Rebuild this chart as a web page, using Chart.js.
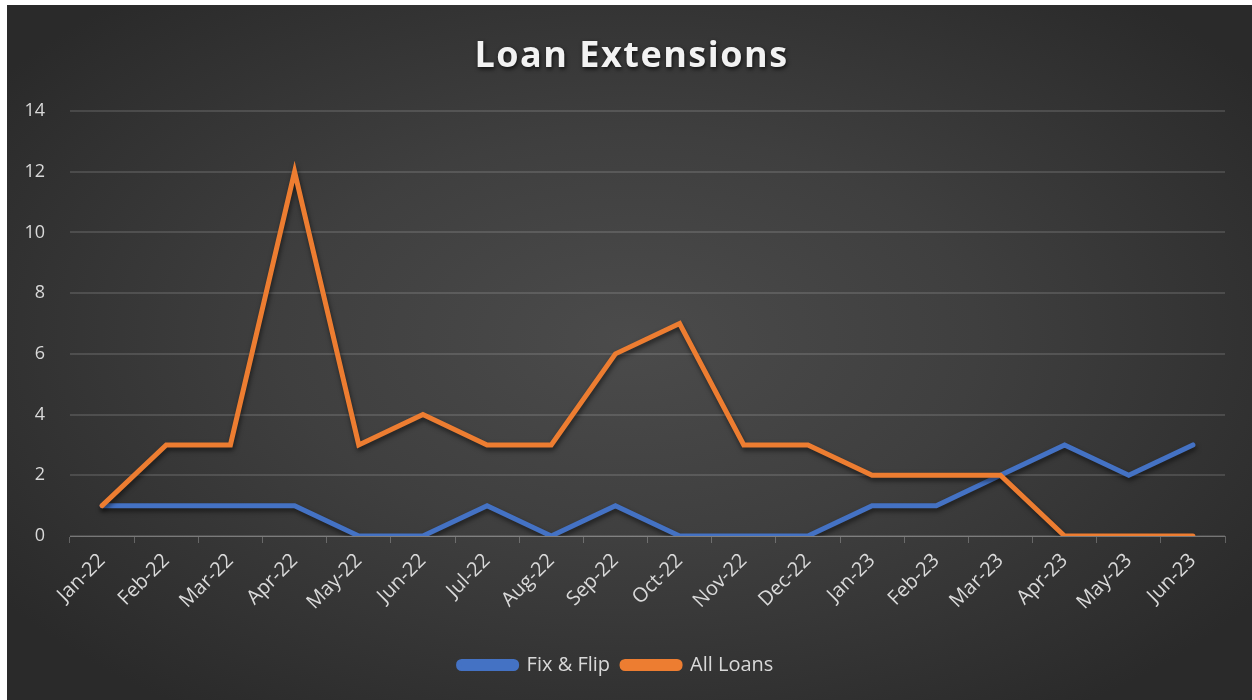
<!DOCTYPE html>
<html>
<head>
<meta charset="utf-8">
<script src="https://cdn.jsdelivr.net/npm/chart.js@4.4.1/dist/chart.umd.min.js"></script>
<style>
    html, body {
        margin: 0;
        padding: 0;
        background: #ffffff;
    }

    #ChartBox {
        position: absolute;
        left: 7px;
        top: 5px;
        width: 1245px;
        height: 695px;
        background: radial-gradient(ellipse 62% 65% at 50% 48%, #4b4b4b 0%, #3f3f3f 45%, #2a2a2a 100%);
    }
</style>
</head>
<body>
<div id="ChartBox">
    <canvas id="LoanExtensionsChart"></canvas>
</div>
<script>
const chartTitle = 'Loan Extensions';

const months = [
    'Jan-22', 'Feb-22', 'Mar-22', 'Apr-22', 'May-22', 'Jun-22',
    'Jul-22', 'Aug-22', 'Sep-22', 'Oct-22', 'Nov-22', 'Dec-22',
    'Jan-23', 'Feb-23', 'Mar-23', 'Apr-23', 'May-23', 'Jun-23'
];

const fixAndFlip = [1, 1, 1, 1, 0, 0, 1, 0, 1, 0, 0, 0, 1, 1, 2, 3, 2, 3];
const allLoans = [1, 3, 3, 12, 3, 4, 3, 3, 6, 7, 3, 3, 2, 2, 2, 0, 0, 0];

const yMin = 0;
const yMax = 14;
const yStep = 2;

const textColor = '#d9d9d9';
const gridColor = 'rgba(255, 255, 255, 0.13)';
const axisColor = 'rgba(255, 255, 255, 0.25)';
const fontFamily = '"Open Sans", "Noto Sans", sans-serif';

// soft drop shadow under both lines
const lineShadow = {
    id: 'lineShadow',
    beforeDatasetsDraw(chart) {
        const ctx = chart.ctx;
        ctx.save();
        ctx.shadowColor = 'rgba(0, 0, 0, 0.55)';
        ctx.shadowBlur = 5;
        ctx.shadowOffsetX = 1;
        ctx.shadowOffsetY = 3;
    },
    afterDatasetsDraw(chart) {
        chart.ctx.restore();
    }
};

// title drawn by hand so it can carry a shadow and letter spacing
const shadowTitle = {
    id: 'shadowTitle',
    afterDraw(chart) {
        const ctx = chart.ctx;
        ctx.save();
        ctx.font = `bold 36px ${fontFamily}`;
        ctx.letterSpacing = '1.5px';
        ctx.fillStyle = '#f2f2f2';
        ctx.textAlign = 'center';
        ctx.textBaseline = 'alphabetic';
        ctx.shadowColor = 'rgba(0, 0, 0, 0.75)';
        ctx.shadowBlur = 4;
        ctx.shadowOffsetX = 1;
        ctx.shadowOffsetY = 2;
        ctx.fillText(chartTitle, chart.width / 2 + 2, 62);
        ctx.restore();
    }
};

const renderChart = () => {
    const canvas = document
        .getElementById('LoanExtensionsChart')
        .getContext('2d');

    new Chart(canvas, {
        type: 'line',
        data: {
            labels: months,
            datasets: [
                {
                    label: 'Fix & Flip',
                    data: fixAndFlip,
                    borderWidth: 5,
                    borderColor: '#4472C4',
                    backgroundColor: '#4472C4',
                    fill: false,
                    tension: 0,
                    pointRadius: 0,
                    pointHoverRadius: 0,
                    borderJoinStyle: 'miter',
                    borderCapStyle: 'round',
                    order: 1
                },
                {
                    label: 'All Loans',
                    data: allLoans,
                    borderWidth: 5,
                    borderColor: '#ED7D31',
                    backgroundColor: '#ED7D31',
                    fill: false,
                    tension: 0,
                    pointRadius: 0,
                    pointHoverRadius: 0,
                    borderJoinStyle: 'miter',
                    borderCapStyle: 'round',
                    order: 0
                }
            ]
        },
        options: {
            responsive: true,
            maintainAspectRatio: false,
            animation: false,
            layout: {
                padding: {
                    top: 106,
                    right: 27,
                    bottom: 15,
                    left: 0
                }
            },
            plugins: {
                title: { display: false },
                tooltip: { enabled: false },
                legend: {
                    position: 'bottom',
                    labels: {
                        color: textColor,
                        boxWidth: 58,
                        boxHeight: 7,
                        padding: 12,
                        useBorderRadius: true,
                        borderRadius: 3,
                        font: {
                            family: fontFamily,
                            size: 20
                        },
                        sort: (a, b) => a.datasetIndex - b.datasetIndex
                    }
                }
            },
            scales: {
                x: {
                    offset: true,
                    afterFit: (scale) => { scale.height = 107; },
                    grid: {
                        offset: true,
                        drawOnChartArea: false,
                        drawTicks: true,
                        tickLength: 7,
                        color: axisColor
                    },
                    border: {
                        display: true,
                        color: axisColor,
                        width: 1
                    },
                    ticks: {
                        color: textColor,
                        minRotation: 45,
                        maxRotation: 45,
                        autoSkip: false,
                        padding: 6,
                        font: {
                            family: fontFamily,
                            size: 20
                        }
                    }
                },
                y: {
                    min: yMin,
                    max: yMax,
                    afterFit: (scale) => { scale.width = 63; },
                    grid: {
                        color: gridColor,
                        lineWidth: 2,
                        drawTicks: false
                    },
                    border: { display: false },
                    ticks: {
                        color: textColor,
                        stepSize: yStep,
                        padding: 25,
                        font: {
                            family: fontFamily,
                            size: 18
                        }
                    }
                }
            }
        },
        plugins: [lineShadow, shadowTitle]
    });
}

renderChart();
</script>
</body>
</html>
